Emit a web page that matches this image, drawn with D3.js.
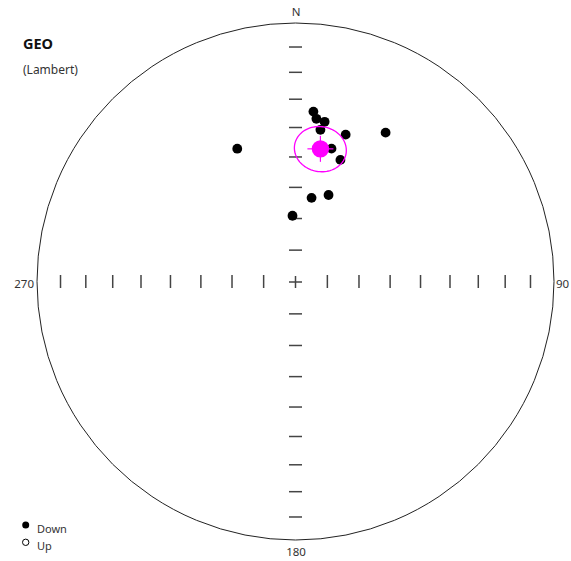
<!DOCTYPE html>
<html><head><meta charset="utf-8">
<script src="https://cdn.jsdelivr.net/npm/d3@7"></script>
<style>html,body{margin:0;padding:0;background:#fff;}svg{display:block;}</style>
</head><body>
<script>
// ---- data ----
const declinations = [6.0, 7.3, 10.3, 9.3, 18.8, 31.1, 336.4, 15.1, 20.2, 10.8, 20.8, 357.4];
const inclinations = [34.1, 36.5, 37.1, 40.1, 39.6, 33.0, 43.1, 45.6, 48.3, 62.9, 60.5, 69.1];
const meanDec = 10.6, meanInc = 46.5, alpha95 = 7.6;
const tickAngles = [10, 20, 30, 40, 50, 60, 70, 80];   // degrees from centre
const axisLabels = ["N", "90", "180", "270"];
const legendLabels = ["Down", "Up"];

const W = 571, H = 561;
const cx = 295.5, cy = 282, R = 258.5;
const rad = Math.PI / 180;

const svg = d3.select("body").append("svg").attr("width", W).attr("height", H)
  .style("font-family", "'Noto Sans', 'Liberation Sans', Arial, sans-serif");

// equal-area radial scale: normalised rho = sqrt(1 - cos(theta)) in [0,1]
const rScale = d3.scaleLinear().domain([0, 1]).range([0, R]);
function proj(dec, inc) {
  const rho = Math.sqrt(1 - Math.sin(inc * rad));
  const r = rScale(rho);
  return [cx + r * Math.sin(dec * rad), cy - r * Math.cos(dec * rad)];
}
function rhoFromAngle(theta) { return Math.sqrt(1 - Math.cos(theta * rad)); }

// primitive circle
svg.append("circle").attr("cx", cx).attr("cy", cy - 0.5).attr("r", R)
  .attr("fill", "none").attr("stroke", "#222").attr("stroke-width", 1);

// ticks
const tk = svg.append("g").attr("stroke", "#444").attr("stroke-width", 1.5);
tickAngles.forEach(a => {
  const d = rScale(rhoFromAngle(a));
  [-1, 1].forEach(s => {
    tk.append("line").attr("x1", cx + s * d).attr("x2", cx + s * d)
      .attr("y1", cy - 7).attr("y2", cy + 6);
    tk.append("line").attr("y1", cy + s * d).attr("y2", cy + s * d)
      .attr("x1", cx - 6.5).attr("x2", cx + 6.5);
  });
});
// centre cross
tk.append("line").attr("x1", cx - 6.5).attr("x2", cx + 6.5).attr("y1", cy).attr("y2", cy);
tk.append("line").attr("x1", cx).attr("x2", cx).attr("y1", cy - 6).attr("y2", cy + 6);

// axis labels
const lab = svg.append("g").attr("fill", "#333").style("font-size", "11.5px");
lab.append("text").attr("x", cx + 0.5).attr("y", 16).attr("text-anchor", "middle").text(axisLabels[0]);
lab.append("text").attr("x", 556).attr("y", 288).attr("text-anchor", "start").text(axisLabels[1]);
lab.append("text").attr("x", cx + 0.5).attr("y", 556).attr("text-anchor", "middle").text(axisLabels[2]);
lab.append("text").attr("x", 34).attr("y", 288).attr("text-anchor", "end").text(axisLabels[3]);

// title
svg.append("text").attr("x", 23).attr("y", 49).attr("font-weight", "bold")
  .style("font-size", "14.5px").attr("fill", "#111").text("GEO");
svg.append("text").attr("x", 23).attr("y", 74).style("font-size", "12px")
  .attr("fill", "#333").text("(Lambert)");

// data points
const pts = declinations.map((d, i) => proj(d, inclinations[i]));
svg.append("g").selectAll("circle").data(pts).join("circle")
  .attr("cx", d => d[0]).attr("cy", d => d[1]).attr("r", 4.9).attr("fill", "#000");

// alpha95 circle around mean
const m = [Math.cos(meanInc * rad) * Math.cos(meanDec * rad),
           Math.cos(meanInc * rad) * Math.sin(meanDec * rad),
           Math.sin(meanInc * rad)];
const u = [-Math.sin(meanInc * rad) * Math.cos(meanDec * rad),
           -Math.sin(meanInc * rad) * Math.sin(meanDec * rad),
           Math.cos(meanInc * rad)];
const v = [m[1] * u[2] - m[2] * u[1], m[2] * u[0] - m[0] * u[2], m[0] * u[1] - m[1] * u[0]];
const ring = d3.range(0, 361, 4).map(t => {
  const ca = Math.cos(alpha95 * rad), sa = Math.sin(alpha95 * rad);
  const p = [0, 1, 2].map(k => ca * m[k] + sa * (Math.cos(t * rad) * u[k] + Math.sin(t * rad) * v[k]));
  const inc = Math.asin(Math.max(-1, Math.min(1, p[2]))) / rad;
  const dec = Math.atan2(p[1], p[0]) / rad;
  return proj(dec, inc);
});
svg.append("path").attr("d", d3.line()(ring)).attr("fill", "none")
  .attr("stroke", "#ff00ff").attr("stroke-width", 1.3);

const mp = proj(meanDec, meanInc);
svg.append("circle").attr("cx", mp[0]).attr("cy", mp[1]).attr("r", 8.7).attr("fill", "#ff00ff");
const mc = svg.append("g").attr("stroke", "#ff00ff").attr("stroke-width", 1.2);
mc.append("line").attr("x1", mp[0] - 13).attr("x2", mp[0] + 13).attr("y1", mp[1]).attr("y2", mp[1]);
mc.append("line").attr("x1", mp[0]).attr("x2", mp[0]).attr("y1", mp[1] - 13).attr("y2", mp[1] + 13);

// legend
const lg = svg.append("g");
lg.append("circle").attr("cx", 25.7).attr("cy", 525).attr("r", 3.5).attr("fill", "#000");
lg.append("circle").attr("cx", 25.7).attr("cy", 542.3).attr("r", 3.2).attr("fill", "#fff")
  .attr("stroke", "#000").attr("stroke-width", 1);
lg.append("text").attr("x", 37).attr("y", 533).style("font-size", "11px").attr("fill", "#333").text(legendLabels[0]);
lg.append("text").attr("x", 37).attr("y", 550).style("font-size", "11px").attr("fill", "#333").text(legendLabels[1]);
</script>
</body></html>
